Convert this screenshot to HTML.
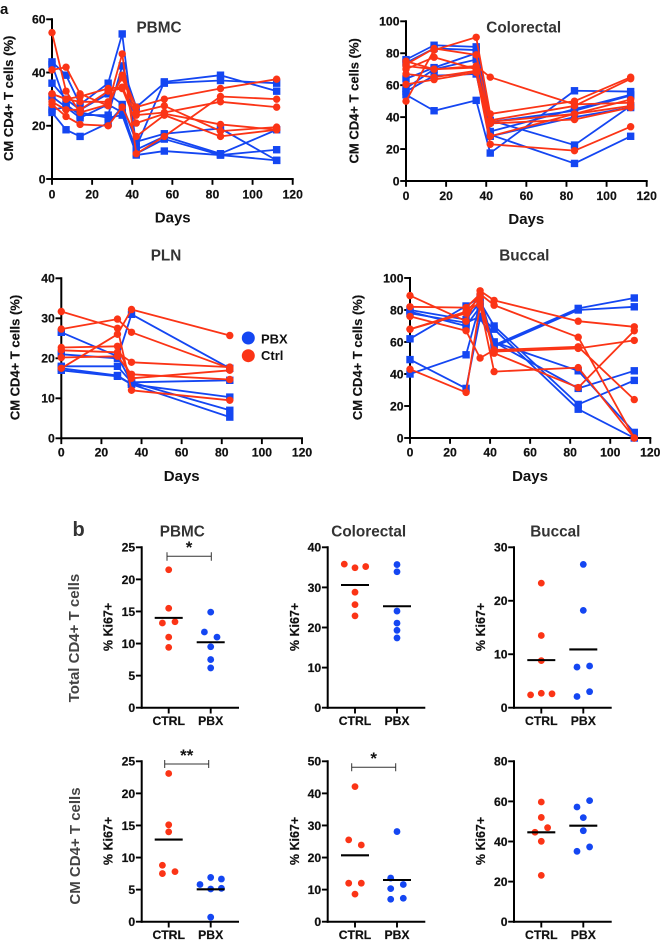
<!DOCTYPE html>
<html lang="en">
<head>
<meta charset="utf-8">
<title>CM CD4+ T cells and Ki67 figure</title>
<style>
html,body{margin:0;padding:0;background:#fff;}
svg{display:block;font-family:"Liberation Sans",Arial,sans-serif;font-weight:bold;}
</style>
</head>
<body>
<svg id="figure" xmlns="http://www.w3.org/2000/svg" width="660" height="944" viewBox="0 0 660 944">
  <text x="0" y="14" font-size="15" fill="#111">a</text>
  <text x="72.5" y="536" font-size="20" fill="#333">b</text>

  <text x="159" y="32.7" font-size="15.3" text-anchor="middle" fill="#333">PBMC</text>
  <text x="523.7" y="32.7" font-size="15.3" text-anchor="middle" fill="#333">Colorectal</text>
  <text x="166" y="260.3" font-size="15.3" text-anchor="middle" fill="#333">PLN</text>
  <text x="524.3" y="260.3" font-size="15.3" text-anchor="middle" fill="#333">Buccal</text>

  <text transform="translate(13 98.3) rotate(-90)" font-size="13" text-anchor="middle" fill="#111" stroke="#111" stroke-width="0.2">CM CD4+ T cells (%)</text>
  <text transform="translate(358.6 100.8) rotate(-90)" font-size="13" text-anchor="middle" fill="#111" stroke="#111" stroke-width="0.2">CM CD4+ T cells (%)</text>
  <text transform="translate(19.6 357.5) rotate(-90)" font-size="13" text-anchor="middle" fill="#111" stroke="#111" stroke-width="0.2">CM CD4+ T cells (%)</text>
  <text transform="translate(361.9 357.5) rotate(-90)" font-size="13" text-anchor="middle" fill="#111" stroke="#111" stroke-width="0.2">CM CD4+ T cells (%)</text>

  <text x="172.7" y="222.7" font-size="15" text-anchor="middle" fill="#111">Days</text>
  <text x="526.3" y="224" font-size="15" text-anchor="middle" fill="#111">Days</text>
  <text x="181.7" y="481" font-size="15" text-anchor="middle" fill="#111">Days</text>
  <text x="530" y="481" font-size="15" text-anchor="middle" fill="#111">Days</text>

  <g>
    <circle cx="248.3" cy="338" r="6.5" fill="#1446f2"/>
    <text x="261" y="343.3" font-size="13" fill="#111">PBX</text>
    <circle cx="248.3" cy="355.7" r="6.5" fill="#fb3416"/>
    <text x="261" y="359.8" font-size="13" fill="#111">Ctrl</text>
  </g>

  <text x="182.3" y="536.7" font-size="15.3" text-anchor="middle" fill="#333">PBMC</text>
  <text x="368.7" y="536.7" font-size="15.3" text-anchor="middle" fill="#333">Colorectal</text>
  <text x="555.3" y="536.7" font-size="15.3" text-anchor="middle" fill="#333">Buccal</text>

  <text transform="translate(79 638) rotate(-90)" font-size="15" text-anchor="middle" fill="#444">Total CD4+ T cells</text>
  <text transform="translate(80 846) rotate(-90)" font-size="15" text-anchor="middle" fill="#444">CM CD4+ T cells</text>

  <text transform="translate(112.5 627) rotate(-90)" font-size="12.5" text-anchor="middle" fill="#111" stroke="#111" stroke-width="0.2">% Ki67+</text>
  <text transform="translate(299 627) rotate(-90)" font-size="12.5" text-anchor="middle" fill="#111" stroke="#111" stroke-width="0.2">% Ki67+</text>
  <text transform="translate(485 627) rotate(-90)" font-size="12.5" text-anchor="middle" fill="#111" stroke="#111" stroke-width="0.2">% Ki67+</text>
  <text transform="translate(112.5 841) rotate(-90)" font-size="12.5" text-anchor="middle" fill="#111" stroke="#111" stroke-width="0.2">% Ki67+</text>
  <text transform="translate(299 841) rotate(-90)" font-size="12.5" text-anchor="middle" fill="#111" stroke="#111" stroke-width="0.2">% Ki67+</text>
  <text transform="translate(485 841) rotate(-90)" font-size="12.5" text-anchor="middle" fill="#111" stroke="#111" stroke-width="0.2">% Ki67+</text>

  <g stroke="#333" stroke-width="1" fill="none">
    <path d="M167 552.3V560.7M167 556.3H211.3M211.3 552.3V560.7"/>
    <text x="189" y="553" font-size="17" text-anchor="middle" fill="#111" stroke="none">*</text>
  </g>
  <g stroke="#333" stroke-width="1" fill="none">
    <path d="M164.7 760V768M164.7 764H208.7M208.7 760V768"/>
    <text x="186.7" y="761" font-size="17" text-anchor="middle" fill="#111" stroke="none">**</text>
  </g>
  <g stroke="#333" stroke-width="1" fill="none">
    <path d="M351.7 763.3V771.3M351.7 767.3H395.7M395.7 763.3V771.3"/>
    <text x="373.7" y="764" font-size="17" text-anchor="middle" fill="#111" stroke="none">*</text>
  </g>
</svg>

<script>
// ---- longitudinal panels: x categories, series values, ticks ----
const dayTicks = [0, 20, 40, 60, 80, 100, 120];

const pbmcDays = [0, 7, 14, 28, 35, 42, 56, 84, 112];
const pbmcYTicks = [0, 20, 40, 60];
const pbmcPbx = [
  [44, 39, 28, 36, 54.5, 12, 36.5, 39, 33],
  [43, 28, 24, 24, 42.5, 27, 36, 37, 36],
  [36, 30, 26, 32, 28, 14, 17, 19, 7],
  [31, 27, 23, 28, 25, 11, 16, 9.5, 18.5],
  [26, 27, 25, 23, 24, 9.5, 15, 9, 11],
  [25, 18.5, 16, 21, 27, 9, 10.5, 9, 7]
];
const pbmcCtrl = [
  [55, 33, 25, 28, 47, 9.5, 16, 31, 30],
  [41, 42, 32, 27.5, 39, 27, 30, 34, 37.5],
  [32, 30, 29, 29, 38, 25, 27.5, 18, 19.5],
  [32, 30, 31, 34, 34.5, 24, 25, 29, 27],
  [29, 26, 26, 33, 34, 21, 24.5, 20.5, 18.5],
  [28, 23.5, 20.5, 20, 27, 16, 24, 16, 18.5]
];

const colorectalDays = [0, 14, 35, 42, 84, 112];
const colorectalYTicks = [0, 20, 40, 60, 80, 100];
const colorectalPbx = [
  [76, 85, 84, 38, 22.5, 47],
  [74, 83, 82, 31, 45, 54],
  [64, 71, 80, 29, 11, 28],
  [58, 70, 76, 37, 44, 53.5],
  [56, 66, 67, 28, 40, 46],
  [54, 44, 50.5, 17.5, 56.5, 56]
];
const colorectalCtrl = [
  [50, 82, 90, 42, 50, 65],
  [75, 70, 72, 65, 48, 49],
  [73, 83, 79, 38, 47, 64],
  [70, 77.5, 70, 37, 42, 51],
  [67, 65, 69, 36, 38.5, 46],
  [60.5, 63.5, 68, 23, 19, 34],
  [72, 70, 71, 28, 42, 47]
];

const plnDays = [0, 28, 35, 84];
const plnYTicks = [0, 10, 20, 30, 40];
const plnPbx = [
  [26.5, 20.5, 14, 7],
  [21, 20, 31, 17.5],
  [18, 18, 14, 14.5],
  [17.5, 15.7, 13.5, 10.3],
  [17, 15.5, 13.5, 5.3]
];
const plnCtrl = [
  [31.7, 27.5, 12, 9.5],
  [27.3, 29.8, 26.5, 17.5],
  [17.5, 26, 32.2, 25.7],
  [22.7, 23, 15, 17],
  [22, 21.5, 19, 17.8],
  [20.2, 20.5, 16, 14.7]
];

const buccalDays = [0, 28, 35, 42, 84, 112];
const buccalYTicks = [0, 20, 40, 60, 80, 100];
const buccalPbx = [
  [62, 82.5, 88, 58, 81, 87.5],
  [79, 70, 82, 57, 80, 82],
  [80, 74, 85, 70, 21, 36],
  [78, 72, 76, 68, 18, 0],
  [49, 31, 75, 60, 42, 3.5],
  [40, 52, 84, 60, 31, 42]
];
const buccalCtrl = [
  [89, 73, 92, 86, 73, 69.5],
  [82, 81.5, 90, 83, 63, 0],
  [76, 67, 50, 55, 57, 24],
  [68, 79, 88, 54, 56, 61],
  [68, 78, 85, 53, 31.5, 67],
  [43, 28.5, 83, 41.5, 44, 0]
];

// ---- Ki67 scatter panels: categories, values, swarm columns, means, ticks ----
const groupLabels = ['CTRL', 'PBX'];

const totalPbmcYTicks = [0, 5, 10, 15, 20, 25];
const totalPbmcCtrl = [21.5, 15.5, 13.2, 13.4, 11, 9.4];
const totalPbmcCtrlSwarm = [0, 0, -1, 1, 0, 0];
const totalPbmcPbx = [14.9, 11.8, 11, 9.5, 7.5, 6.2];
const totalPbmcPbxSwarm = [0, -1, 1, 0, 0, 0];
const totalPbmcMeans = [14, 10.2];

const totalColorectalYTicks = [0, 10, 20, 30, 40];
const totalColorectalCtrl = [35.8, 34.9, 35.2, 28.8, 25.7, 22.9];
const totalColorectalCtrlSwarm = [-1.7, 0, 1.7, 0, 0, 0];
const totalColorectalPbx = [35.7, 33.9, 24.1, 21.1, 19.3, 17.4];
const totalColorectalPbxSwarm = [0, 0, 0, 0, 0, 0];
const totalColorectalMeans = [30.6, 25.3];

const totalBuccalYTicks = [0, 10, 20, 30];
const totalBuccalCtrl = [23.3, 13.5, 8.8, 2.4, 2.7, 2.6];
const totalBuccalCtrlSwarm = [0, 0, 0, -1.7, 0, 1.7];
const totalBuccalPbx = [26.8, 18.2, 7.6, 7.8, 3, 2.1];
const totalBuccalPbxSwarm = [0, 0, -1, 1, 1, -1];
const totalBuccalMeans = [8.9, 10.9];

const cmPbmcYTicks = [0, 5, 10, 15, 20, 25];
const cmPbmcCtrl = [23.1, 15.1, 14, 8.8, 7.5, 7.8];
const cmPbmcCtrlSwarm = [0, 0, 0, -1, -1, 1];
const cmPbmcPbx = [6.9, 6.65, 5.8, 5.1, 5.2, 0.7];
const cmPbmcPbxSwarm = [0, 1.7, -1.7, 0, 1.7, 0];
const cmPbmcMeans = [12.8, 5.05];

const cmColorectalYTicks = [0, 10, 20, 30, 40, 50];
const cmColorectalCtrl = [42.1, 25.5, 23.9, 12, 12, 8.6];
const cmColorectalCtrlSwarm = [0, -1, 1, -1, 1, 0];
const cmColorectalPbx = [28.1, 13.6, 11.6, 10.3, 7, 7.3];
const cmColorectalPbxSwarm = [0, -1, 1, -1, -1, 1];
const cmColorectalMeans = [20.7, 13];

const cmBuccalYTicks = [0, 20, 40, 60, 80];
const cmBuccalCtrl = [59.7, 52, 46.9, 44.6, 40.1, 23.1];
const cmBuccalCtrlSwarm = [0, 0, 1, -1, 0, 0];
const cmBuccalPbx = [60.4, 57.2, 51.9, 45.4, 37.3, 35.1];
const cmBuccalPbxSwarm = [1, -1, 0, 0, 1, -1];
const cmBuccalMeans = [44.6, 47.9];

const BLUE = '#1446f2';
const RED = '#fb3416';
const INK = '#111';
const NS = 'http://www.w3.org/2000/svg';
const root = document.getElementById('figure');

function make(tag, attrs, parent) {
  const node = document.createElementNS(NS, tag);
  for (const key in attrs) node.setAttribute(key, attrs[key]);
  parent.appendChild(node);
  return node;
}

function linearAxis(domainMax, start, end) {
  return function (value) { return start + (value / domainMax) * (end - start); };
}

function drawAxes(g, prefix, sx, sy, xEnd, xTickValues, xTickText, yTicks, xLabelY) {
  const x0 = sx(0);
  const y0 = sy(0);
  const yTop = sy(yTicks[yTicks.length - 1]);

  const yLine = make('line', { x1: x0, x2: x0, y1: yTop - 1, y2: y0 + 1, stroke: '#000', 'stroke-width': 2 }, g);
  
  

  const xLine = make('line', { x1: x0 - 1, x2: xEnd + 1, y1: y0, y2: y0, stroke: '#000', 'stroke-width': 2 }, g);
  
  

  yTicks.forEach(function (t) {
    const tick = make('line', { x1: x0 - 5.8, x2: x0, y1: sy(t), y2: sy(t), stroke: '#000', 'stroke-width': 1.9 }, g);
    
    
    const label = make('text', { x: x0 - 6.5, y: sy(t) + 4.4, 'font-size': 12.2, 'text-anchor': 'end', fill: INK, stroke: INK, 'stroke-width': 0.2 }, g);
    
    
    label.textContent = t;
  });

  xTickValues.forEach(function (px, i) {
    const tick = make('line', { x1: px, x2: px, y1: y0, y2: y0 + 5.8, stroke: '#000', 'stroke-width': 1.9 }, g);
    
    
    const label = make('text', { x: px, y: xLabelY, 'font-size': 12.2, 'text-anchor': 'middle', fill: INK, stroke: INK, 'stroke-width': 0.2 }, g);
    
    
    label.textContent = xTickText[i];
  });
}

function drawSeries(g, prefix, days, rows, sx, sy, color, square) {
  rows.forEach(function (row, r) {
    const pts = row.map(function (v, i) { return sx(days[i]).toFixed(2) + ',' + sy(v).toFixed(2); }).join(' ');
    const line = make('polyline', { points: pts, fill: 'none', stroke: color, 'stroke-width': 1.8, 'stroke-linejoin': 'round' }, g);
    
    
    row.forEach(function (v, i) {
      let mark;
      if (square) {
        mark = make('rect', { x: sx(days[i]) - 3.7, y: sy(v) - 3.7, width: 7.4, height: 7.4, fill: color }, g);
      } else {
        mark = make('circle', { cx: sx(days[i]), cy: sy(v), r: 3.7, fill: color }, g);
      }
      
      
    });
  });
}

function drawLinePanel(name, x0, x1, yBottom, yTop, yTicks, days, pbx, ctrl, xLabelY) {
  const g = make('g', {}, root);
  
  
  const sx = linearAxis(120, x0, x1);
  const sy = linearAxis(yTicks[yTicks.length - 1], yBottom, yTop);
  drawAxes(g, name, sx, sy, x1, dayTicks.map(sx), dayTicks, yTicks, xLabelY);
  drawSeries(g, name + '-pbx', days, pbx, sx, sy, BLUE, true);
  drawSeries(g, name + '-ctrl', days, ctrl, sx, sy, RED, false);
}

function drawDots(g, prefix, values, swarm, cx, sy, color) {
  values.forEach(function (v, i) {
    const dot = make('circle', { cx: cx + swarm[i] * 6.3, cy: sy(v), r: 3.4, fill: color }, g);
    
    
  });
}

function drawScatterPanel(name, axisX, ctrlX, pbxX, xEnd, yBottom, yTop, yTicks, ctrl, ctrlSwarm, pbx, pbxSwarm, means, xLabelY) {
  const g = make('g', {}, root);
  
  
  const sx = function (v) { return axisX + v; };
  const sy = linearAxis(yTicks[yTicks.length - 1], yBottom, yTop);
  drawAxes(g, name, sx, sy, xEnd, [ctrlX, pbxX], groupLabels, yTicks, xLabelY);
  drawDots(g, name + '-ctrl', ctrl, ctrlSwarm, ctrlX, sy, RED);
  drawDots(g, name + '-pbx', pbx, pbxSwarm, pbxX, sy, BLUE);
  [ctrlX, pbxX].forEach(function (cx, i) {
    const bar = make('line', { x1: cx - 14, x2: cx + 14, y1: sy(means[i]), y2: sy(means[i]), stroke: '#000', 'stroke-width': 2.1 }, g);
    
    
  });
}

drawLinePanel('pbmc', 52, 292.7, 179, 19.3, pbmcYTicks, pbmcDays, pbmcPbx, pbmcCtrl, 198.3);
drawLinePanel('colorectal', 406, 646.7, 181, 21.3, colorectalYTicks, colorectalDays, colorectalPbx, colorectalCtrl, 200);
drawLinePanel('pln', 61.3, 302, 438.3, 278.3, plnYTicks, plnDays, plnPbx, plnCtrl, 456.7);
drawLinePanel('buccal', 410, 650.3, 438, 278, buccalYTicks, buccalDays, buccalPbx, buccalCtrl, 456.7);

drawScatterPanel('total-pbmc', 141.7, 168.7, 210.7, 238, 707.7, 547.3, totalPbmcYTicks, totalPbmcCtrl, totalPbmcCtrlSwarm, totalPbmcPbx, totalPbmcPbxSwarm, totalPbmcMeans, 725);
drawScatterPanel('total-colorectal', 327.7, 355, 397, 424.3, 707.7, 547.3, totalColorectalYTicks, totalColorectalCtrl, totalColorectalCtrlSwarm, totalColorectalPbx, totalColorectalPbxSwarm, totalColorectalMeans, 725);
drawScatterPanel('total-buccal', 514, 541.3, 583.3, 610.7, 707.7, 547.3, totalBuccalYTicks, totalBuccalCtrl, totalBuccalCtrlSwarm, totalBuccalPbx, totalBuccalPbxSwarm, totalBuccalMeans, 725);
drawScatterPanel('cm-pbmc', 141.7, 168.7, 210.7, 238, 921.7, 761.3, cmPbmcYTicks, cmPbmcCtrl, cmPbmcCtrlSwarm, cmPbmcPbx, cmPbmcPbxSwarm, cmPbmcMeans, 939);
drawScatterPanel('cm-colorectal', 327.7, 355, 397, 424.3, 921.7, 761.3, cmColorectalYTicks, cmColorectalCtrl, cmColorectalCtrlSwarm, cmColorectalPbx, cmColorectalPbxSwarm, cmColorectalMeans, 939);
drawScatterPanel('cm-buccal', 514, 541.3, 583.3, 610.7, 921.7, 761.3, cmBuccalYTicks, cmBuccalCtrl, cmBuccalCtrlSwarm, cmBuccalPbx, cmBuccalPbxSwarm, cmBuccalMeans, 939);
</script>
</body>
</html>
